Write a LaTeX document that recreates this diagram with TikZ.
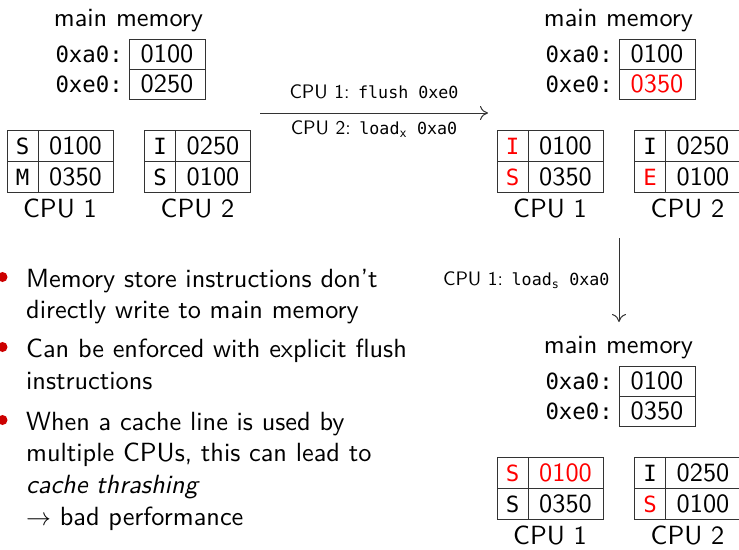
\documentclass[tikz,border=0pt]{standalone}
\usepackage{fontspec}
\setsansfont{lmsans10}[Extension=.otf, UprightFont=*-regular, ItalicFont=*-oblique, BoldFont=*-bold, BoldItalicFont=*-boldoblique]
\setmonofont{DejaVu Sans Mono}[Scale=0.85]
\renewcommand{\familydefault}{\sfdefault}
\usetikzlibrary{positioning, arrows.meta}
\definecolor{bulletred}{RGB}{204,0,0}
\definecolor{linegray}{RGB}{51,51,51}

\newcommand{\mainsize}{\fontsize{26.3}{31.7}\selectfont}
\newcommand{\smallsize}{\fontsize{19.5}{22}\selectfont}
\newcommand{\smtt}[1]{{\fontsize{19.6}{20}\selectfont\ttfamily #1}}

% main memory of one scene
\newcommand{\memblock}[3]{%
  \node[title] (#1t) at (128.5,26) {main memory};
  \node[memcell, anchor=north west] (#1a) at (129,39) {#2};
  \node[memcell, below=0pt of #1a] (#1e) {#3};
  \node[addr, left=6pt of #1a] (#1la) {0xa0:};
  \node[addr, left=6pt of #1e] (#1le) {0xe0:};
}
% one cache with its cpu label
\newcommand{\cachetab}[7]{%
  \node[stcell, anchor=north west] (#1s1) at (#2,130.5) {#4};
  \node[valcell, right=0pt of #1s1] (#1v1) {#5};
  \node[stcell, below=0pt of #1s1] (#1s2) {#6};
  \node[valcell, right=0pt of #1s2] (#1v2) {#7};
  \node[cpulabel] (#1l) at (#2+53,217) {#3};
}

\begin{document}
\begin{tikzpicture}[x=1pt, y=-1pt,
    cell/.style={draw=linegray, line width=1pt, inner sep=0pt, outer sep=0pt, minimum height=31pt, font=\mainsize},
    memcell/.style={cell, minimum width=76pt, minimum height=30pt},
    stcell/.style={cell, minimum width=31pt, font=\mainsize\ttfamily},
    valcell/.style={cell, minimum width=75pt},
    addr/.style={inner sep=0pt, font=\mainsize\ttfamily},
    title/.style={inner sep=0pt, anchor=base, font=\mainsize},
    cpulabel/.style={inner sep=0pt, anchor=base, font=\mainsize},
    op/.style={inner sep=0pt, font=\smallsize},
    conn/.style={-{To[length=8pt, width=14pt]}, draw=linegray, line width=1pt},
    item/.style={inner sep=0pt, anchor=north west, align=left, font=\mainsize},
    dot/.style={circle, fill=bulletred, inner sep=0pt, minimum size=10pt}]
    \useasboundingbox (0,0) rectangle (739,549);

    % before
    \memblock{A}{0100}{0250}
    \cachetab{AA}{7}{CPU 1}{S}{0100}{M}{0350}
    \cachetab{AB}{144.5}{CPU 2}{I}{0250}{S}{0100}

    % after flush / load
    \begin{scope}[shift={(490,0)}]
        \memblock{B}{0100}{\textcolor{red}{0350}}
        \cachetab{BA}{7}{CPU 1}{\textcolor{red}{I}}{0100}{\textcolor{red}{S}}{0350}
        \cachetab{BB}{144.5}{CPU 2}{I}{0250}{\textcolor{red}{E}}{0100}
    \end{scope}

    % after second load
    \begin{scope}[shift={(490,327)}]
        \memblock{C}{0100}{0350}
        \cachetab{CA}{7}{CPU 1}{\textcolor{red}{S}}{\textcolor{red}{0100}}{S}{0350}
        \cachetab{CB}{144.5}{CPU 2}{I}{0250}{\textcolor{red}{S}}{0100}
    \end{scope}

    % transitions
    \coordinate (h0) at (260,113);
    \coordinate (h1) at (488,113);
    \draw[conn] (h0) -- (h1)
        node[op, midway, above=14pt] (op1) {CPU 1: \smtt{flush 0xe0}}
        node[op, midway, below=7.5pt] (op2) {CPU 2: \smtt{load\textsubscript{x} 0xa0}};
    \coordinate (v0) at (619,238);
    \coordinate (v1) at (619,322);
    \draw[conn] (v0) -- (v1)
        node[op, midway, left=9pt] (op3) {CPU 1: \smtt{load\textsubscript{s} 0xa0}};

    % bullets
    \node[dot] (d1) at (2.5,277) {};
    \node[dot] (d2) at (2.5,347) {};
    \node[dot] (d3) at (2.5,420) {};
    \node[item] (i1) at (26,268.7) {Memory store instructions don't\\directly write to main memory};
    \node[item] (i2) at (26,338.7) {Can be enforced with explicit flush\\instructions};
    \node[item] (i3) at (26,411.7) {When a cache line is used by\\multiple CPUs, this can lead to\\\textit{cache thrashing}\\$\rightarrow$ bad performance};
\end{tikzpicture}
\end{document}
